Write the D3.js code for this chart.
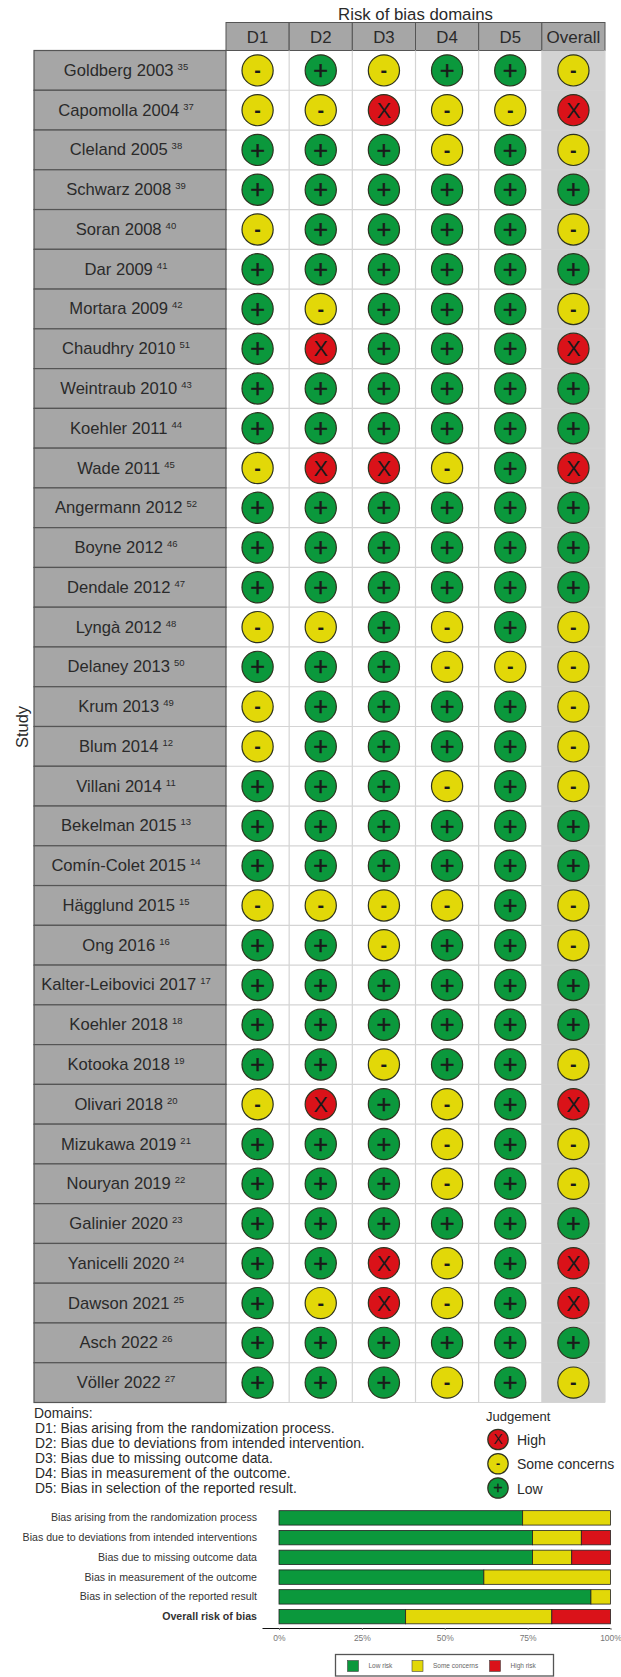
<!DOCTYPE html>
<html>
<head>
<meta charset="utf-8">
<script src="https://cdn.jsdelivr.net/npm/d3@7"></script>
<style>
  html, body { margin: 0; padding: 0; background: #fff; }
  svg { display: block; font-family: "Liberation Sans", Arial, sans-serif; }
  .axis-bar path { stroke: #111; stroke-width: 1; }
  .axis-bar line { stroke: #777; }
  .axis-bar text { fill: #777; font-size: 8.5px; }
</style>
</head>
<body>
<div id="chart"></div>
<script>
const studies = ['Goldberg 2003','Capomolla 2004','Cleland 2005','Schwarz 2008','Soran 2008','Dar 2009','Mortara 2009','Chaudhry 2010','Weintraub 2010','Koehler 2011','Wade 2011','Angermann 2012','Boyne 2012','Dendale 2012','Lyngà 2012','Delaney 2013','Krum 2013','Blum 2014','Villani 2014','Bekelman 2015','Comín-Colet 2015','Hägglund 2015','Ong 2016','Kalter-Leibovici 2017','Koehler 2018','Kotooka 2018','Olivari 2018','Mizukawa 2019','Nouryan 2019','Galinier 2020','Yanicelli 2020','Dawson 2021','Asch 2022','Völler 2022'];
const refs = [35,37,38,39,40,41,42,51,43,44,45,52,46,47,48,50,49,12,11,13,14,15,16,17,18,19,20,21,22,23,24,25,26,27];
const domains = ['D1','D2','D3','D4','D5','Overall'];
// one string per study, D1..D5 then Overall
const judgements = ['-+-++-','--X--X','+++-+-','++++++','-++++-','++++++','+-+++-','+X+++X','++++++','++++++','-XX-+X','++++++','++++++','++++++','--+-+-','+++---','-++++-','-++++-','+++-+-','++++++','++++++','----+-','++-++-','++++++','++++++','++-++-','-X+-+X','+++-+-','+++-+-','++++++','++X-+X','+-X-+X','++++++','+++-+-'];

const domainNotes = ['Domains:','D1: Bias arising from the randomization process.','D2: Bias due to deviations from intended intervention.','D3: Bias due to missing outcome data.','D4: Bias in measurement of the outcome.','D5: Bias in selection of the reported result.'];
const legendKeys = ['X','-','+'];
const legendNames = ['High','Some concerns','Low'];

const barLabels = ['Bias arising from the randomization process','Bias due to deviations from intended interventions','Bias due to missing outcome data','Bias in measurement of the outcome','Bias in selection of the reported result','Overall risk of bias'];
const lowRisk = [73.5,76.5,76.5,61.8,94.1,38.2];
const someConcerns = [26.5,14.7,11.8,38.2,5.9,44.1];
const highRisk = [0,8.8,11.7,0,0,17.7];
const barTicks = [0,25,50,75,100];
const barLegend = ['Low risk','Some concerns','High risk'];

const color = { '+': '#0b983c', '-': '#e2d808', X: '#da1219' };
const width = 621, height = 1677;
const svg = d3.select('#chart').append('svg').attr('width', width).attr('height', height);

const x = d3.scaleBand().domain(domains).range([226, 605]);
const y = d3.scaleBand().domain(studies).range([50.5, 1402.5]);

// header
svg.append('text').attr('x', 415.5).attr('y', 19.5).attr('text-anchor', 'middle').attr('font-size', 16.8).attr('fill', '#2a2a2a').text('Risk of bias domains');
svg.selectAll('rect.head').data(domains).join('rect').attr('class', 'head')
  .attr('x', (d) => x(d)).attr('y', 22.5).attr('width', x.bandwidth()).attr('height', 28)
  .attr('fill', '#a6a6a6').attr('stroke', '#555').attr('stroke-width', 1);
svg.selectAll('text.head').data(domains).join('text').attr('class', 'head')
  .attr('x', (d) => x(d) + x.bandwidth() / 2).attr('y', 42.5).attr('text-anchor', 'middle')
  .attr('font-size', (d) => (d === 'Overall' ? 17 : 16.8)).attr('fill', '#2a2a2a').text((d) => d);

// overall column shading and grid
svg.append('rect').attr('x', x('Overall')).attr('y', 50.5).attr('width', x.bandwidth()).attr('height', 1352).attr('fill', '#d2d2d2');
svg.selectAll('line.col').data(domains).join('line').attr('class', 'col')
  .attr('x1', (d) => x(d) + x.bandwidth()).attr('x2', (d) => x(d) + x.bandwidth())
  .attr('y1', 50.5).attr('y2', 1402.5).attr('stroke', '#d4d4d4').attr('stroke-width', 1.2);
svg.selectAll('line.row').data(studies).join('line').attr('class', 'row')
  .attr('x1', 226).attr('x2', 605)
  .attr('y1', (d) => y(d) + y.bandwidth()).attr('y2', (d) => y(d) + y.bandwidth())
  .attr('stroke', '#d4d4d4').attr('stroke-width', 1.2);

// study labels
const rows = svg.selectAll('g.study').data(studies).join('g').attr('class', 'study');
rows.append('rect').attr('x', 34).attr('y', (d) => y(d)).attr('width', 192).attr('height', y.bandwidth())
  .attr('fill', '#a6a6a6').attr('stroke', '#555').attr('stroke-width', 1.2);
const labels = rows.append('text').attr('x', 126).attr('y', (d) => y(d) + y.bandwidth() / 2 + 5.5)
  .attr('text-anchor', 'middle').attr('font-size', 16.6).attr('fill', '#2a2a2a');
labels.append('tspan').text((d) => d);
labels.append('tspan').attr('font-size', 9.5).attr('dx', 4).attr('dy', -6).text((d, i) => refs[i]);

svg.append('text').attr('transform', 'translate(28,727) rotate(-90)').attr('text-anchor', 'middle')
  .attr('font-size', 16.5).attr('fill', '#2a2a2a').text('Study');

// judgement points
function mark(sel, r, size) {
  sel.append('circle').attr('r', r).attr('fill', (d) => color[d.j]).attr('stroke', '#2e3320').attr('stroke-width', 1.2);
  sel.append('text').attr('text-anchor', 'middle')
    .attr('y', (d) => (d.j === 'X' ? size * 0.35 : d.j === '+' ? size * 0.39 : size * 0.3))
    .attr('font-size', (d) => (d.j === 'X' ? size * 0.98 : d.j === '+' ? size * 1.15 : size * 0.9))
    .attr('font-weight', (d) => (d.j === '-' ? 'bold' : 'normal'))
    .attr('stroke', (d) => (d.j === '+' ? '#1a1a1a' : 'none')).attr('stroke-width', size * 0.02)
    .attr('fill', '#1a1a1a').text((d) => d.j);
}
const cells = studies.flatMap((s, i) => domains.map((dom, k) => ({ s, dom, j: judgements[i][k] })));
svg.selectAll('g.cell').data(cells).join('g').attr('class', 'cell')
  .attr('transform', (d) => `translate(${x(d.dom) + x.bandwidth() / 2},${y(d.s) + y.bandwidth() / 2})`)
  .call(mark, 15.6, 22);

// domains note
svg.selectAll('text.note').data(domainNotes).join('text').attr('class', 'note')
  .attr('x', (d, i) => (i ? 35 : 34)).attr('y', (d, i) => 1418 + i * 15)
  .attr('font-size', 13.9).attr('fill', '#2a2a2a').text((d) => d);

// judgement legend
svg.append('text').attr('x', 486).attr('y', 1421).attr('font-size', 13).attr('fill', '#2a2a2a').text('Judgement');
const legY = d3.scalePoint().domain(legendKeys).range([1439.5, 1488]);
const leg = svg.selectAll('g.leg').data(legendKeys.map((j) => ({ j }))).join('g').attr('class', 'leg')
  .attr('transform', (d) => `translate(498,${legY(d.j)})`);
leg.call(mark, 10.2, 14);
svg.selectAll('text.legname').data(legendNames).join('text').attr('class', 'legname')
  .attr('x', 517).attr('y', (d, i) => legY(legendKeys[i]) + 5.5).attr('font-size', 14).attr('fill', '#2a2a2a').text((d) => d);

// summary bars
const bx = d3.scaleLinear().domain([0, 100]).range([279, 610.5]);
const by = d3.scaleBand().domain(barLabels).range([1508, 1626.5]).paddingInner(0.27).paddingOuter(0.135);
barLabels.forEach((label, i) => {
  const parts = [[lowRisk[i], '+'], [someConcerns[i], '-'], [highRisk[i], 'X']];
  let start = 0;
  parts.forEach(([v, j]) => {
    if (v > 0) {
      svg.append('rect').attr('x', bx(start)).attr('y', by(label)).attr('width', bx(start + v) - bx(start))
        .attr('height', by.bandwidth()).attr('fill', color[j]).attr('stroke', '#222').attr('stroke-width', 0.8);
    }
    start += v;
  });
});
svg.selectAll('text.barlabel').data(barLabels).join('text').attr('class', 'barlabel')
  .attr('x', 257).attr('y', (d) => by(d) + by.bandwidth() / 2 + 3.5).attr('text-anchor', 'end')
  .attr('font-size', 10.6).attr('fill', '#333').attr('font-weight', (d, i) => (i === 5 ? 'bold' : 'normal')).text((d) => d);

const axis = svg.append('g').attr('class', 'axis-bar').attr('transform', 'translate(0,1628)')
  .call(d3.axisBottom(bx).tickValues(barTicks).tickFormat((d) => d + '%').tickSize(2).tickSizeOuter(0));
axis.select('.domain').attr('d', 'M262.5,0.5H610.5');
axis.selectAll('text').attr('dy', '0.9em');

// bar legend
svg.append('rect').attr('x', 335.5).attr('y', 1654.5).attr('width', 218).attr('height', 21.5).attr('fill', '#fff').attr('stroke', '#555').attr('stroke-width', 1.3);
const keyX = d3.scaleOrdinal().domain(barLegend).range([347.5, 412, 489.5]);
const keyColor = d3.scaleOrdinal().domain(barLegend).range([color['+'], color['-'], color.X]);
svg.selectAll('rect.key').data(barLegend).join('rect').attr('class', 'key')
  .attr('x', (d) => keyX(d)).attr('y', 1660.5).attr('width', 11).attr('height', 11)
  .attr('fill', (d) => keyColor(d)).attr('stroke', '#444').attr('stroke-width', 0.6);
svg.selectAll('text.key').data(barLegend).join('text').attr('class', 'key')
  .attr('x', (d) => keyX(d) + 21).attr('y', 1668).attr('font-size', 6.5).attr('fill', '#666').text((d) => d);
</script>
</body>
</html>
